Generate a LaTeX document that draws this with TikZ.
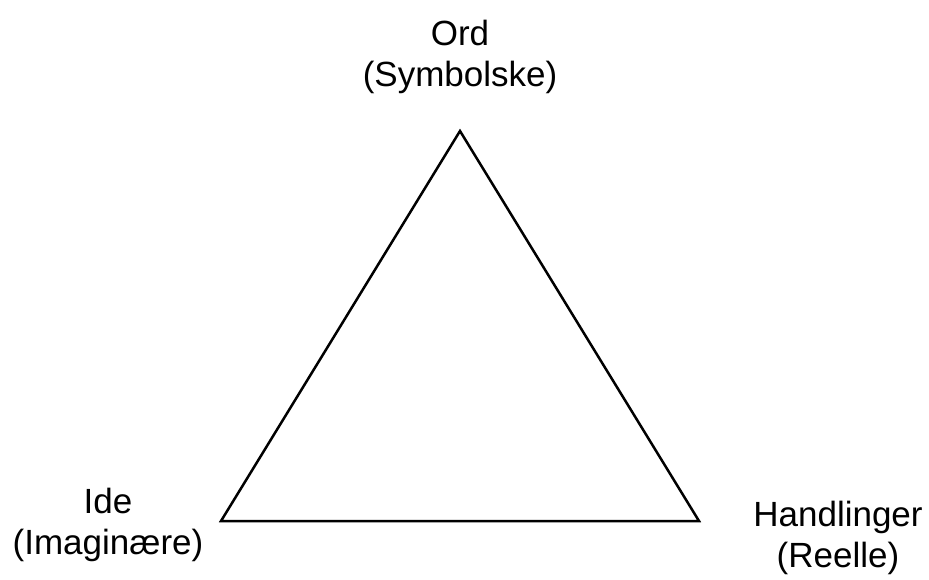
\documentclass[tikz,border=0pt]{standalone}
\usepackage{fontspec}
\setmainfont{Liberation Sans}
\begin{document}
\begin{tikzpicture}[x=1pt,y=-1pt,
  label text/.style={font=\fontsize{35}{41}\selectfont, align=center, inner sep=0pt},
  edge line/.style={line width=2.5pt, line join=miter}]
  \useasboundingbox (0,0) rectangle (929,579);
  % corners of the triangle
  \coordinate (top) at (460,131);
  \coordinate (left) at (221,521);
  \coordinate (right) at (699,521);
  \draw[edge line] (top) -- (left) -- (right) -- cycle;
  % corner labels
  \node[label text] (ord) at (460,56.5) {Ord\\(Symbolske)};
  \node[label text] (ide) at (108,525) {Ide\\(Imaginære)};
  \node[label text] (handl) at (838,538) {Handlinger\\(Reelle)};
\end{tikzpicture}
\end{document}
